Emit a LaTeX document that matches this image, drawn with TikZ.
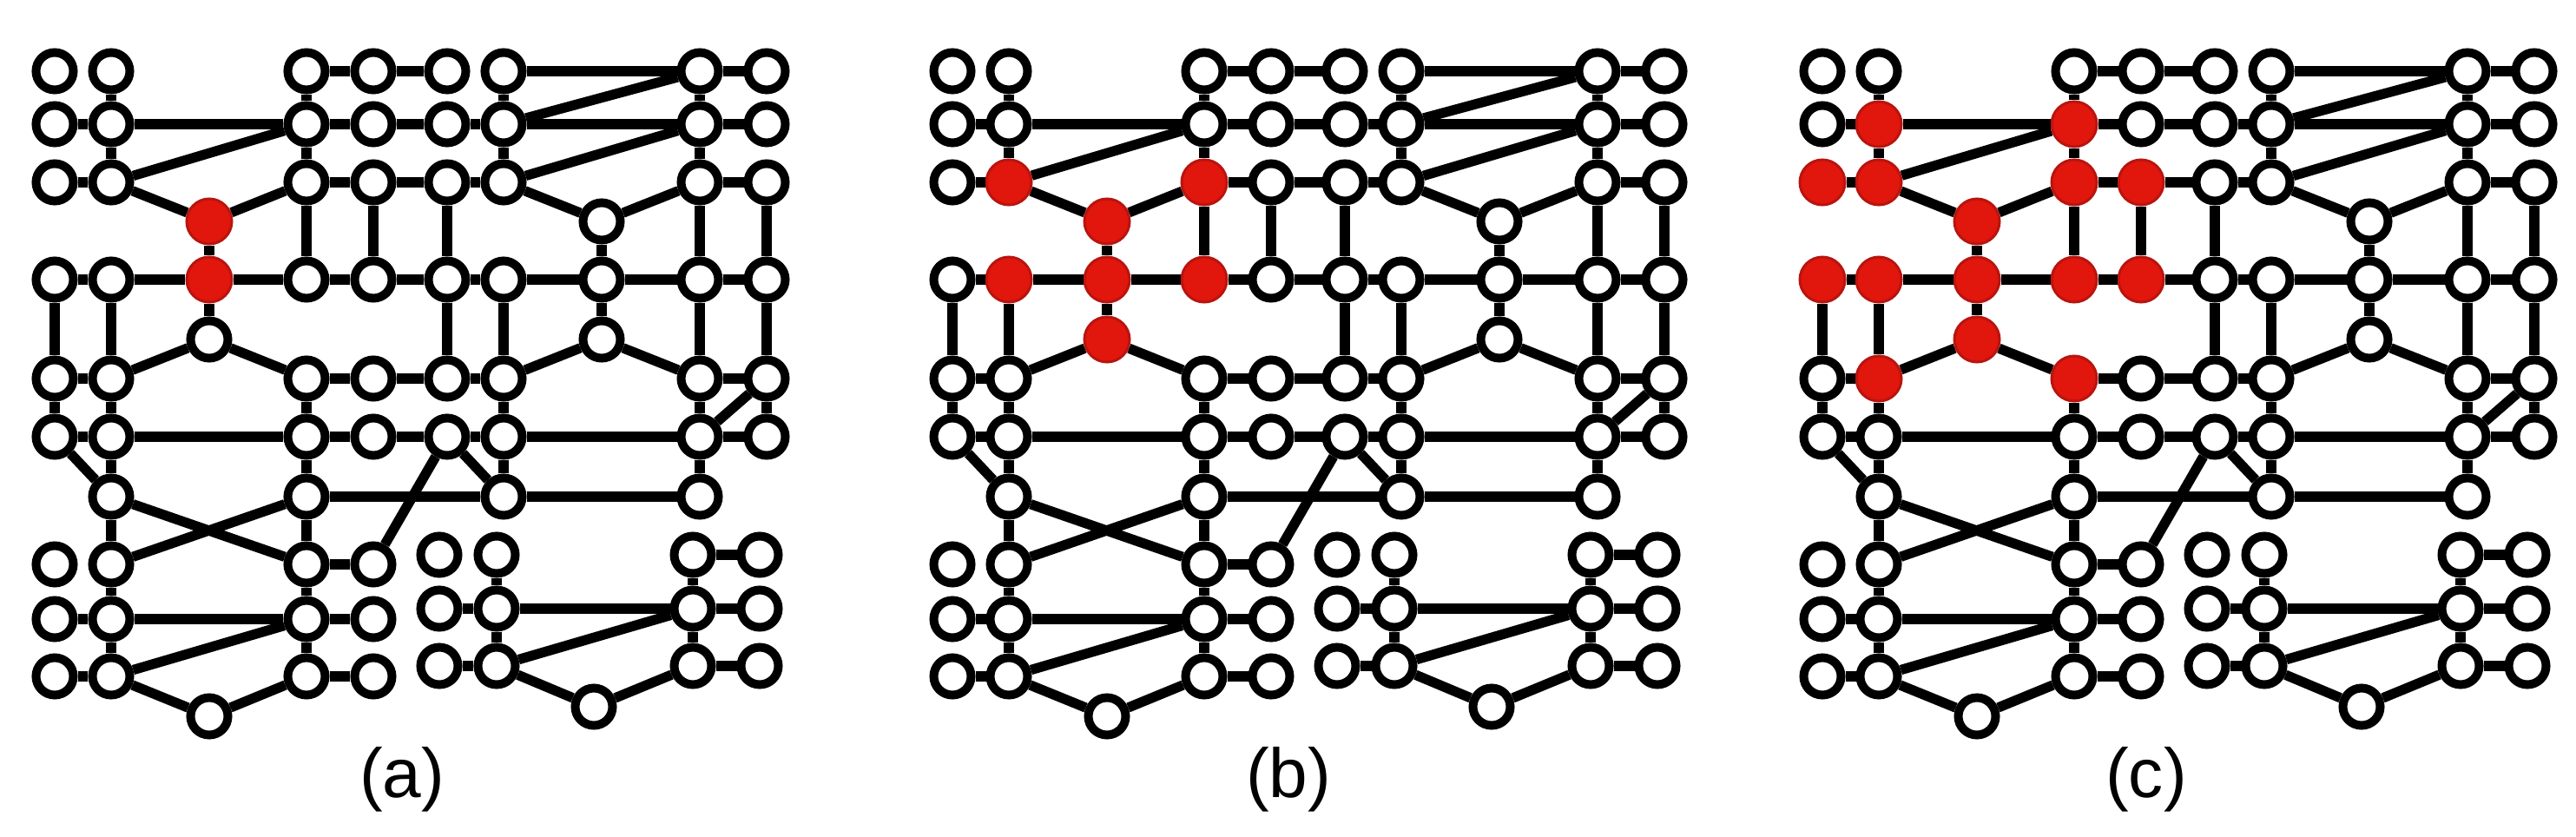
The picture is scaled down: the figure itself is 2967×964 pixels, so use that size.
\documentclass[tikz,border=0pt]{standalone}
\usepackage{fontspec}
\setmainfont{Liberation Sans}
\definecolor{redfill}{RGB}{225,22,12}
\definecolor{redborder}{RGB}{185,20,15}
\tikzset{
  vtx/.style={circle, draw=black, fill=white, line width=2.5mm, minimum size=10.75mm, inner sep=0pt},
  rvtx/.style={circle, draw=redborder, fill=redfill, line width=0.75mm, minimum size=13mm, inner sep=0pt},
  edge/.style={line width=2.85mm, black},
  lbl/.style={font=\fontsize{57}{60}\selectfont, text=black}
}
\newcommand\vx[3]{%
  \ifcsname rd@\pfx @#1\endcsname
    \node[rvtx] (\pfx-#1) at (#2,#3) {};
  \else
    \node[vtx] (\pfx-#1) at (#2,#3) {};
  \fi}
\newcommand\setred[2]{\foreach \nn in {#2}{\expandafter\gdef\csname rd@#1@\nn\endcsname{}}}
\setred{a}{c3r4,c3r5}
\setred{b}{c2r3,c3r4,c4r3,c2r5,c3r5,c4r5,c3r6}
\setred{c}{c2r2,c4r2,c1r3,c2r3,c4r3,c5r3,c3r4,c1r5,c2r5,c3r5,c4r5,c5r5,c3r6,c2r7,c4r7}
\newcommand\pnl[2]{%
\gdef\pfx{#1}%
\begin{scope}[shift={(#2,0)}]
  \foreach \ri/\yy in {1/82,2/143,3/210,7/436,8/503}{
    \foreach \ci/\xx in {1/63,2/128,4/353,5/430,6/515,7/580,9/806,10/883}{\vx{c\ci r\ri}{\xx}{\yy}}}
  \foreach \ri/\yy in {4/255,6/391}{\foreach \ci/\xx in {3/241,8/693}{\vx{c\ci r\ri}{\xx}{\yy}}}
  \foreach \ci/\xx in {1/63,2/128,3/241,4/353,5/430,6/515,7/580,8/693,9/806,10/883}{\vx{c\ci r5}{\xx}{322}}
  \foreach \ci/\xx in {2/128,4/353,7/580,9/806}{\vx{c\ci r9}{\xx}{572}}
  \foreach \ri/\yy in {10/650,11/713,12/779}{\foreach \ci/\xx in {1/63,2/128,4/353,5/430}{\vx{c\ci r\ri}{\xx}{\yy}}}
  \vx{c3r13}{241}{825}
  \foreach \ri/\yy in {1/639,2/701,3/767}{\foreach \ci/\xx in {1/506,2/572,4/798,5/875}{\vx{d\ci s\ri}{\xx}{\yy}}}
  \vx{d3s4}{684}{814}
  \foreach \u/\v in {c4r1/c5r1, c5r1/c6r1, c7r1/c9r1, c9r1/c10r1,
    c1r2/c2r2, c2r2/c4r2, c4r2/c5r2, c5r2/c6r2, c6r2/c7r2, c7r2/c9r2, c9r2/c10r2,
    c1r3/c2r3, c4r3/c5r3, c5r3/c6r3, c6r3/c7r3, c9r3/c10r3,
    c1r5/c2r5, c2r5/c3r5, c3r5/c4r5, c4r5/c5r5, c5r5/c6r5, c6r5/c7r5, c7r5/c8r5, c8r5/c9r5, c9r5/c10r5,
    c1r7/c2r7, c4r7/c5r7, c5r7/c6r7, c6r7/c7r7, c9r7/c10r7,
    c1r8/c2r8, c2r8/c4r8, c4r8/c5r8, c5r8/c6r8, c6r8/c7r8, c7r8/c9r8, c9r8/c10r8,
    c4r9/c7r9, c7r9/c9r9, c4r10/c5r10,
    c1r11/c2r11, c2r11/c4r11, c4r11/c5r11, c1r12/c2r12, c4r12/c5r12,
    c1r5/c1r7, c1r7/c1r8,
    c2r1/c2r2, c2r2/c2r3, c2r5/c2r7, c2r7/c2r8, c2r8/c2r9, c2r9/c2r10, c2r10/c2r11, c2r11/c2r12,
    c3r4/c3r5, c3r5/c3r6,
    c4r1/c4r2, c4r2/c4r3, c4r3/c4r5, c4r7/c4r8, c4r8/c4r9, c4r9/c4r10, c4r10/c4r11, c4r11/c4r12,
    c5r3/c5r5, c6r3/c6r5, c6r5/c6r7,
    c7r1/c7r2, c7r2/c7r3, c7r5/c7r7, c7r7/c7r8, c7r8/c7r9,
    c8r4/c8r5, c8r5/c8r6,
    c9r1/c9r2, c9r2/c9r3, c9r3/c9r5, c9r5/c9r7, c9r7/c9r8, c9r8/c9r9,
    c10r3/c10r5, c10r5/c10r7, c10r7/c10r8,
    c2r3/c4r2, c7r2/c9r1, c7r3/c9r2,
    c2r3/c3r4, c3r4/c4r3, c7r3/c8r4, c8r4/c9r3,
    c2r7/c3r6, c3r6/c4r7, c7r7/c8r6, c8r6/c9r7,
    c9r8/c10r7, c1r8/c2r9, c6r8/c7r9, c6r8/c5r10,
    c2r9/c4r10, c2r10/c4r9, c2r12/c4r11, c2r12/c3r13, c3r13/c4r12,
    d1s2/d2s2, d2s2/d4s2, d4s2/d5s2, d4s1/d5s1, d1s3/d2s3, d4s3/d5s3, d2s3/d4s2,
    d2s1/d2s2, d2s2/d2s3, d4s1/d4s2, d4s2/d4s3, d2s3/d3s4, d3s4/d4s3}
    {\draw[edge] (\pfx-\u) -- (\pfx-\v);}
\end{scope}}
\begin{document}
\begin{tikzpicture}[x=0.025cm, y=-0.025cm]
  \useasboundingbox (0,0) rectangle (2967,964);
  \pnl{a}{0}
  \pnl{b}{1034}
  \pnl{c}{2036}
  \node[lbl] (la) at (463,898) {(a)};
  \node[lbl] (lb) at (1484,898) {(b)};
  \node[lbl] (lc) at (2472,898) {(c)};
\end{tikzpicture}
\end{document}
